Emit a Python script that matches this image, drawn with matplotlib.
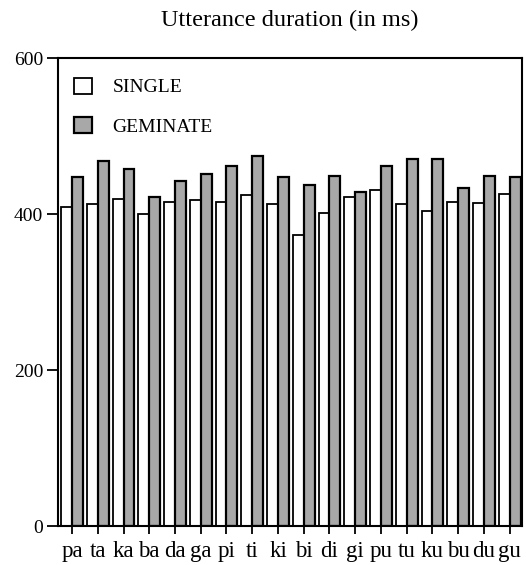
import matplotlib
matplotlib.use("Agg")
import matplotlib.pyplot as plt
import numpy as np

plt.rcParams['font.family'] = ['Liberation Serif', 'DejaVu Serif']

syllables = ['pa', 'ta', 'ka', 'ba', 'da', 'ga', 'pi', 'ti', 'ki',
             'bi', 'di', 'gi', 'pu', 'tu', 'ku', 'bu', 'du', 'gu']
single = [409, 413, 420, 400, 415, 418, 415, 425, 413,
          373, 402, 422, 431, 413, 404, 415, 414, 426]
geminate = [447, 468, 458, 422, 442, 451, 462, 475, 447,
            438, 449, 428, 462, 471, 471, 433, 449, 447]
yticks = [0, 200, 400, 600]

fig = plt.figure(figsize=(5.26, 5.65), dpi=100)
ax = fig.add_axes([0.111, 0.069, 0.881, 0.828])

x = np.arange(len(syllables))
w = 0.42
ax.bar(x - w / 2, single, w, color='white', edgecolor='black',
       linewidth=1.3, label='SINGLE')
ax.bar(x + w / 2, geminate, w, color='#a8a8a8', edgecolor='black',
       linewidth=1.6, label='GEMINATE')

ax.set_xlim(-0.53, 17.47)
ax.set_ylim(0, 600)
ax.set_xticks(x)
ax.set_xticklabels(syllables, fontsize=16.5)
ax.set_yticks(yticks)
ax.set_yticklabels([str(t) for t in yticks], fontsize=14)
ax.tick_params(axis='y', direction='out', length=8, width=1.3, pad=3)
ax.tick_params(axis='x', direction='out', length=6, width=1.3, pad=5)
ax.tick_params(right=False, top=False)
for s in ax.spines.values():
    s.set_linewidth(1.5)

ax.legend(loc='upper left', frameon=False, fontsize=14,
          handlelength=0.95, handleheight=0.9, labelspacing=1.05,
          handletextpad=1.05, borderaxespad=0.6,
          bbox_to_anchor=(-0.009, 1.0))

fig.text(0.55, 0.964, 'Utterance duration (in ms)', ha='center',
         va='center', fontsize=17.5)

fig.savefig('out.png', dpi=100)
